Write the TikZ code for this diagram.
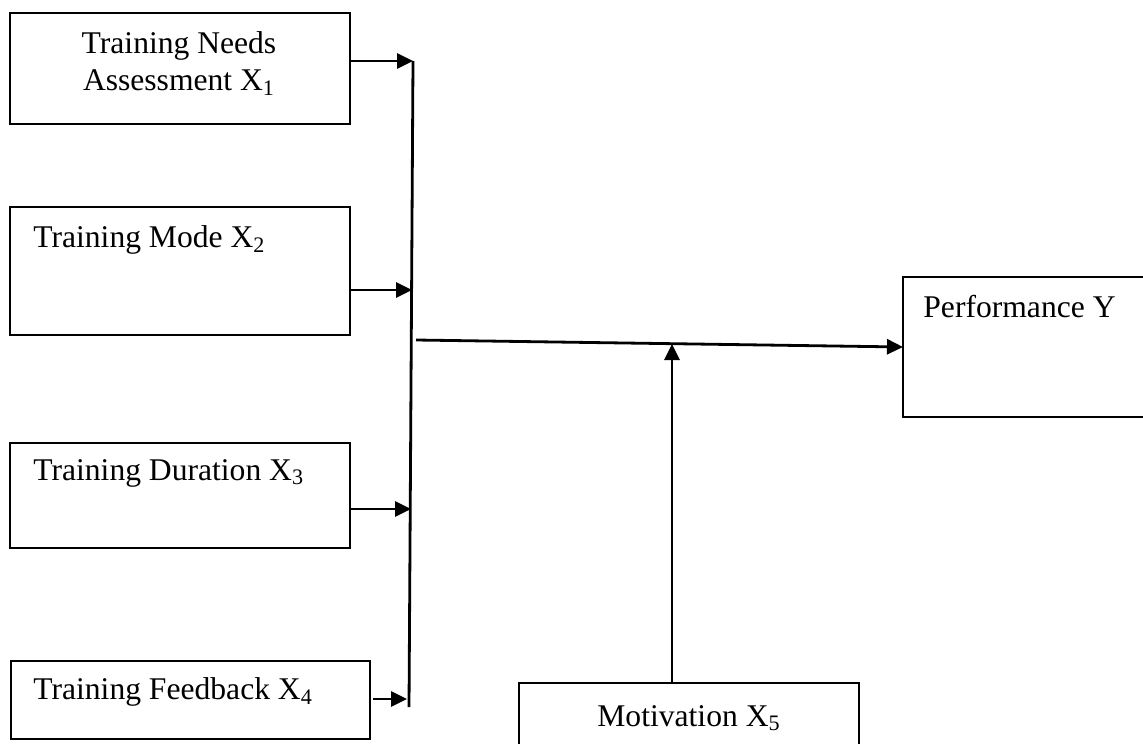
\documentclass[tikz,border=0pt]{standalone}
\usepackage{fontspec}
\setmainfont{Liberation Serif}
\usepackage{tikz}
\usetikzlibrary{%
  positioning
 ,calc
 ,arrows.meta
}
\tikzstyle{box}=[draw=black,line width=1pt,inner sep=0pt,outer sep=0pt]
\tikzstyle{lbl}=[inner sep=0pt,anchor=west,font=\fontsize{15.8}{18.5}\selectfont]
\tikzstyle{arr}=[line width=1.4pt,-{Triangle[length=8pt,width=7.5pt]}]

\begin{document}
\begin{tikzpicture}[x=0.5pt,y=-0.5pt]
  \useasboundingbox (0,0) rectangle (1143,743);
  \clip (0,0) rectangle (1143,743);
  \fill[white] (0,0) rectangle (1143,743);
% input boxes
  \node[box,minimum width=170pt,minimum height=55.5pt] (needs) at (180,68.5) {};
  \node[lbl,align=center,anchor=center] (needstxt) at (179,63.5) {Training Needs\\Assessment X\textsubscript{1}};
  \node[box,minimum width=170pt,minimum height=64pt] (mode) at (180,271) {};
  \node[lbl] (modetxt) at (33,240) {Training Mode X\textsubscript{2}};
  \node[box,minimum width=170pt,minimum height=52.5pt] (dur) at (180,495.5) {};
  \node[lbl] (durtxt) at (33,473) {Training Duration X\textsubscript{3}};
  \node[box,minimum width=179.5pt,minimum height=39pt] (feed) at (190.5,700) {};
  \node[lbl] (feedtxt) at (33,692) {Training Feedback X\textsubscript{4}};
% moderator and outcome
  \node[box,lbl,anchor=center,minimum width=170pt,minimum height=35pt] (mot) at (689,718) {Motivation X\textsubscript{5}};
  \node[box,minimum width=130pt,minimum height=70pt] (perf) at (1033,347) {};
  \node[lbl] (perftxt) at (923,307) {Performance Y};
% 
  \coordinate (top) at (413,61);
  \coordinate (bot) at (409,707);
  \coordinate (j2) at (412,290);
  \coordinate (j3) at (411,509);
  \coordinate (j4) at (407,699);
  \coordinate (hub) at (416,340);
  \coordinate (up) at (672,344);
  \draw[line width=1.4pt] (top) -- (bot);
  \draw[arr] (needs.east |- top) -- (top);
  \draw[arr] (mode.east |- j2) -- (j2);
  \draw[arr] (dur.east |- j3) -- (j3);
  \draw[arr] ($(feed.east |- j4)+(3,0)$) -- (j4);
  \draw[arr] (hub) -- (perf.west);
  \draw[arr] (mot.north -| up) -- (up);
\end{tikzpicture}
\end{document}
